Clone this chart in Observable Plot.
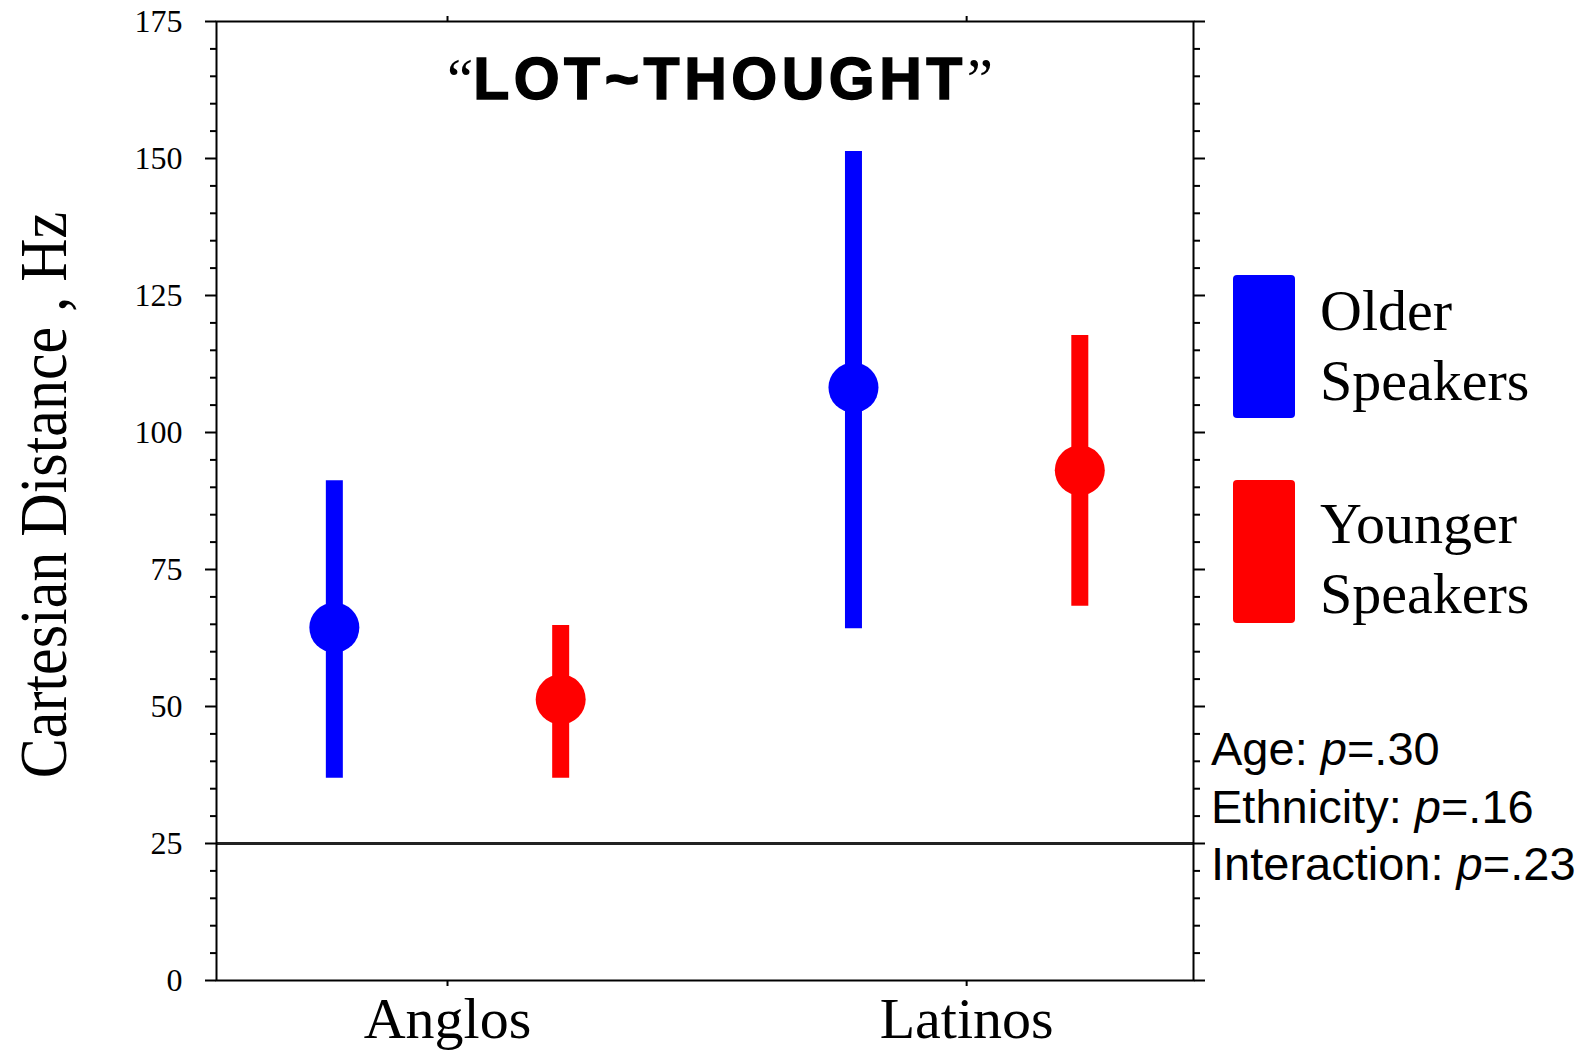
<!DOCTYPE html>
<html>
<head>
<meta charset="utf-8">
<script src="https://cdn.jsdelivr.net/npm/d3@7"></script>
<script src="https://cdn.jsdelivr.net/npm/@observablehq/plot@0.6"></script>
<style>
  html, body { margin: 0; padding: 0; background: #fff; }
  #chart { position: relative; width: 1591px; height: 1051px; }
</style>
</head>
<body>
<div id="chart"></div>
<script>
// ---- data ----
const groups = ["Anglos", "Latinos"];
const speakers = ["Older Speakers", "Younger Speakers"];
const speakerColors = ["#0000ff", "#ff0000"];
const olderMean = [64.4, 108.2];
const olderLow = [36.9, 64.2];
const olderHigh = [91.2, 151.3];
const youngerMean = [51.3, 93.1];
const youngerLow = [36.9, 68.3];
const youngerHigh = [64.8, 117.7];
const majorTicks = [0, 25, 50, 75, 100, 125, 150, 175];
const minorTicks = d3.range(0, 176, 5).filter(v => v % 25 !== 0);
const referenceLine = [25];
const titleText = "LOT~THOUGHT";
const yLabel = "Cartesian Distance , Hz";
const stats = [["Age: ", ".30"], ["Ethnicity: ", ".16"], ["Interaction: ", ".23"]];

// table built from the arrays
const offset = 0.218;
const data = [];
groups.forEach((g, i) => {
  data.push({group: g, speaker: speakers[0], pos: i - offset, mean: olderMean[i], low: olderLow[i], high: olderHigh[i]});
  data.push({group: g, speaker: speakers[1], pos: i + offset, mean: youngerMean[i], low: youngerLow[i], high: youngerHigh[i]});
});

const svg = Plot.plot({
  width: 1591,
  height: 1051,
  marginLeft: 216,
  marginRight: 398,
  marginTop: 21,
  marginBottom: 71,
  style: {fontFamily: "'Liberation Serif', 'Times New Roman', serif", color: "#000", background: "#fff"},
  x: {domain: [-0.445, 1.437], axis: null},
  y: {domain: [0, 175], axis: null},
  color: {domain: speakers, range: speakerColors},
  marks: [
    Plot.ruleY(referenceLine, {stroke: "#222", strokeWidth: 3}),
    Plot.frame({stroke: "#000", strokeWidth: 2}),
    Plot.axisY({ticks: majorTicks, tickSize: 11, tickPadding: 23, fontSize: 32, strokeWidth: 2, label: null}),
    Plot.axisY({ticks: minorTicks, tickSize: 6, tickFormat: () => "", strokeWidth: 2, label: null}),
    Plot.axisY({anchor: "right", ticks: majorTicks, tickSize: 11, tickFormat: () => "", strokeWidth: 2, label: null}),
    Plot.axisY({anchor: "right", ticks: minorTicks, tickSize: 6, tickFormat: () => "", strokeWidth: 2, label: null}),
    Plot.axisX({ticks: [0, 1], tickFormat: i => groups[i], tickSize: 6, tickPadding: 10, fontSize: 58, strokeWidth: 2, label: null}),
    Plot.axisX({anchor: "top", ticks: [0, 1], tickSize: 6, tickFormat: () => "", strokeWidth: 2, label: null}),
    Plot.ruleX(data, {x: "pos", y1: "low", y2: "high", stroke: "speaker", strokeWidth: 17}),
    Plot.dot(data, {x: "pos", y: "mean", r: 25, fill: "speaker", stroke: "none"})
  ]
});

document.getElementById("chart").appendChild(svg);

// ---- annotations ----
const s = d3.select(svg);

// title
const t = s.append("text")
  .attr("x", 720).attr("y", 99)
  .attr("text-anchor", "middle")
  .attr("fill", "#000");
t.append("tspan").attr("font-family", "'Liberation Serif', serif").attr("font-size", 59).text("\u201C");
t.append("tspan").attr("font-family", "'Liberation Sans', Arial, sans-serif").attr("font-weight", "bold")
  .attr("font-size", 59).attr("letter-spacing", 4.5).attr("stroke", "#000").attr("stroke-width", 1.4).text(titleText);
t.append("tspan").attr("font-family", "'Liberation Serif', serif").attr("font-size", 59).text("\u201D");

// y-axis label
s.append("text")
  .attr("transform", "translate(66,495) rotate(-90) scale(1,1.12)")
  .attr("text-anchor", "middle")
  .attr("font-family", "'Liberation Serif', serif")
  .attr("font-size", 60)
  .attr("fill", "#000")
  .text(yLabel);

// legend
const legendItems = [
  {color: speakerColors[0], y: 275, lines: ["Older", "Speakers"], base: 330},
  {color: speakerColors[1], y: 480, lines: ["Younger", "Speakers"], base: 543}
];
legendItems.forEach(it => {
  s.append("rect").attr("x", 1233).attr("y", it.y).attr("width", 62).attr("height", 143)
    .attr("rx", 4).attr("fill", it.color);
  it.lines.forEach((ln, k) => {
    s.append("text").attr("x", 1320).attr("y", it.base + k * 70)
      .attr("text-anchor", "start")
      .attr("font-family", "'Liberation Serif', serif").attr("font-size", 58)
      .attr("fill", "#000").text(ln);
  });
});

// stats
stats.forEach((st, k) => {
  const tx = s.append("text").attr("x", 1211).attr("y", 765 + k * 57.5)
    .attr("text-anchor", "start")
    .attr("font-family", "'Liberation Sans', Arial, sans-serif").attr("font-size", 47).attr("fill", "#000");
  tx.append("tspan").text(st[0]);
  tx.append("tspan").attr("font-style", "italic").text("p");
  tx.append("tspan").text("=" + st[1]);
});
</script>
</body>
</html>
